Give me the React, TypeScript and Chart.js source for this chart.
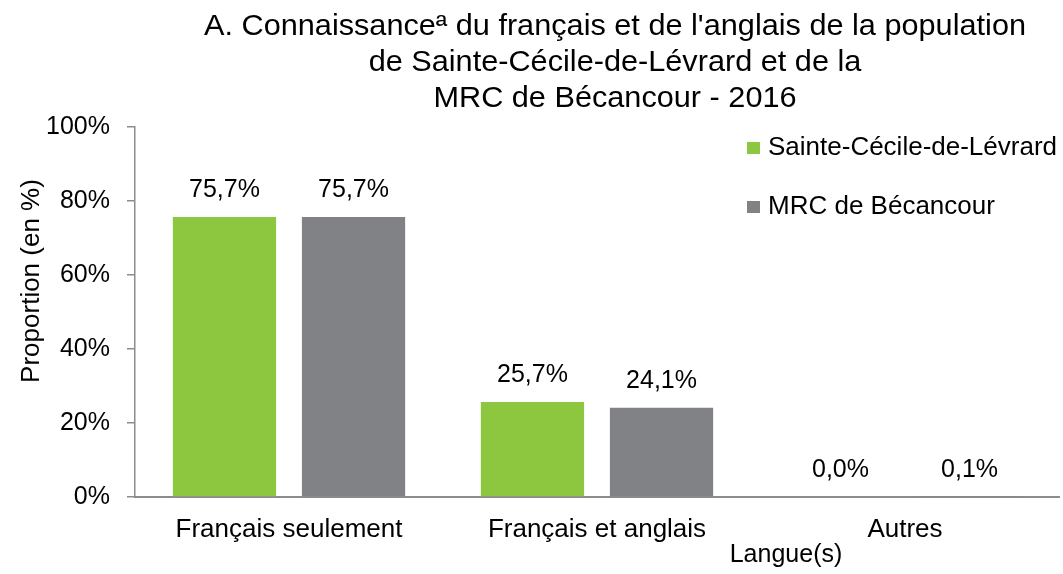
import React, { useEffect, useRef } from "react";
import { Chart, registerables } from "chart.js";

Chart.register(...registerables);

const categories = ["Français seulement", "Français et anglais", "Autres"];
const seriesNames = ["Sainte-Cécile-de-Lévrard", "MRC de Bécancour"];
const sainteCecile = [75.7, 25.7, 0.0];
const mrcBecancour = [75.7, 24.1, 0.1];
const yTicks = [0, 20, 40, 60, 80, 100];
const titleLines = [
  "A. Connaissanceª du français et de l'anglais de la population",
  "de Sainte-Cécile-de-Lévrard et de la",
  "MRC de Bécancour - 2016",
];
const yTitle = "Proportion (en %)";
const xTitle = "Langue(s)";

const GREEN = "#8DC63F";
const GRAY = "#808285";
const FONT = "'Liberation Sans', Arial, sans-serif";

const fmt = (v: number) => v.toFixed(1).replace(".", ",") + "%";

const overlay = {
  id: "overlay",
  afterDatasetsDraw(chart: any) {
    const ctx = chart.ctx;
    ctx.save();
    ctx.fillStyle = "#000";
    // data labels
    ctx.font = `25px ${FONT}`;
    ctx.textAlign = "center";
    ctx.textBaseline = "middle";
    chart.data.datasets.forEach((ds: any, i: number) => {
      const meta = chart.getDatasetMeta(i);
      meta.data.forEach((bar: any, j: number) => {
        ctx.fillText(fmt(ds.data[j]), bar.x, bar.y - 27);
      });
    });
    // title
    ctx.font = `29px ${FONT}`;
    const baselines = [35, 71, 107];
    ctx.textBaseline = "alphabetic";
    const w0 = ctx.measureText(titleLines[0]).width;
    const sx = 822 / w0;
    titleLines.forEach((t, i) => {
      ctx.save();
      ctx.translate(615, baselines[i]);
      ctx.scale(sx, 1);
      ctx.fillText(t, 0, 0);
      ctx.restore();
    });
    ctx.textBaseline = "middle";
    // y title
    ctx.save();
    ctx.font = `26px ${FONT}`;
    ctx.translate(32, 281);
    ctx.rotate(-Math.PI / 2);
    ctx.fillText(yTitle, 0, 0);
    ctx.restore();
    // x title
    ctx.font = `25px ${FONT}`;
    ctx.fillText(xTitle, 786, 555);
    // legend
    const colors = [GREEN, GRAY];
    const lys = [148, 207];
    ctx.textAlign = "left";
    ctx.font = `26px ${FONT}`;
    seriesNames.forEach((n, i) => {
      ctx.fillStyle = colors[i];
      ctx.fillRect(747, lys[i] - 6, 13, 12);
      ctx.fillStyle = "#000";
      ctx.fillText(n, 768, lys[i]);
    });
    ctx.restore();
  },
};

export default function App() {
  const ref = useRef<HTMLCanvasElement>(null);
  useEffect(() => {
    if (!ref.current) return;
    const chart = new Chart(ref.current, {
      type: "bar",
      data: {
        labels: categories,
        datasets: [
          { label: seriesNames[0], data: sainteCecile, backgroundColor: GREEN, categoryPercentage: 0.838, barPercentage: 0.8 },
          { label: seriesNames[1], data: mrcBecancour, backgroundColor: GRAY, categoryPercentage: 0.838, barPercentage: 0.8 },
        ],
      },
      options: {
        animation: false,
        responsive: false,
        layout: { padding: { top: 127, right: 4, left: 0, bottom: 0 } },
        plugins: { legend: { display: false }, title: { display: false }, tooltip: { enabled: false } },
        scales: {
          x: {
            grid: { display: false, drawTicks: false },
            border: { color: "#8c8c8c", width: 2 },
            ticks: { color: "#000", font: { family: FONT, size: 26 }, padding: 17 },
            afterFit: (s: any) => { s.height = 77; },
          },
          y: {
            min: 0,
            max: 100,
            afterBuildTicks: (s: any) => { s.ticks = yTicks.map((v) => ({ value: v })); },
            grid: { drawOnChartArea: false, drawTicks: true, tickLength: 8, color: "#8c8c8c", lineWidth: 1.5 },
            border: { color: "#8c8c8c", width: 1.5 },
            ticks: { color: "#000", font: { family: FONT, size: 25 }, padding: 17, callback: (v: any) => v + "%" },
            afterFit: (s: any) => { s.width = 135; },
          },
        },
      },
      plugins: [overlay],
    });
    return () => chart.destroy();
  }, []);
  return (
    <div style={{ position: "absolute", left: 0, top: 0, width: 1063, height: 574, background: "#fff" }}>
      <canvas ref={ref} width={1063} height={574} />
    </div>
  );
}
